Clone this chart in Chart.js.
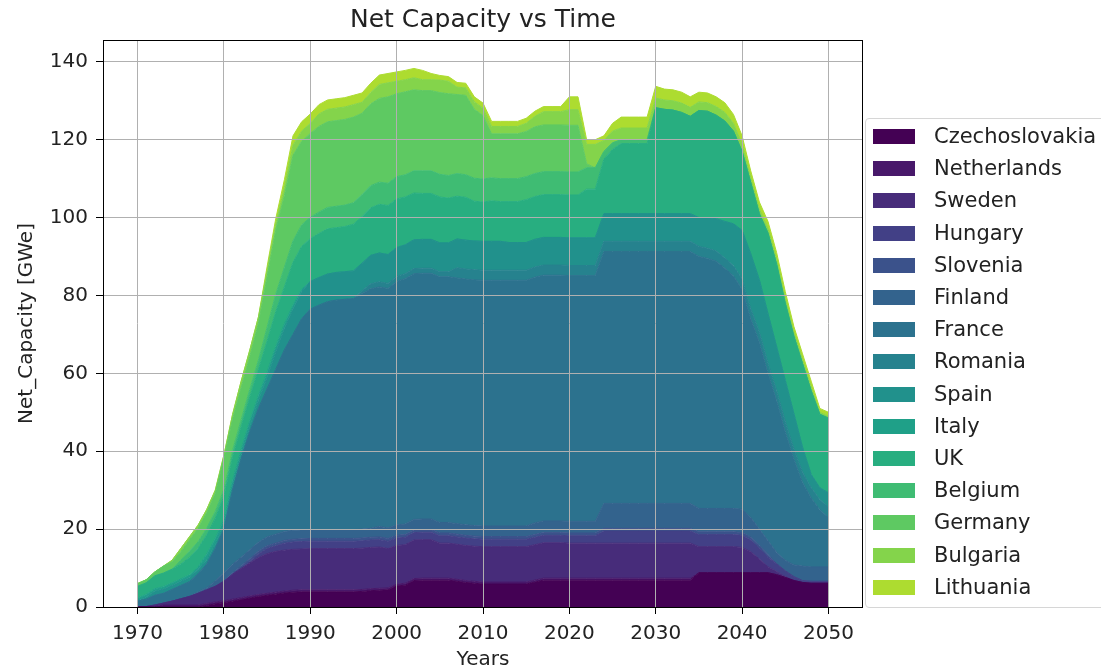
<!DOCTYPE html>
<html>
<head>
<meta charset="utf-8">
<script src="https://cdn.jsdelivr.net/npm/chart.js@4.4.0/dist/chart.umd.min.js"></script>
<style>
  body { margin: 0; background: #fff; }
  #wrap { position: relative; width: 1101px; height: 672px; overflow: hidden; font-family: 'DejaVu Sans', sans-serif; }
  #legend { position: absolute; left: 865px; top: 118px; width: 280px; height: 490px; box-sizing: border-box;
            border: 1px solid #d6d6d6; border-radius: 4px; background: rgba(255,255,255,0.8); }
  .sw { position: absolute; left: 7px; width: 42px; height: 15px; }
  .lb { position: absolute; left: 68px; font-size: 21px; color: #222; line-height: 24px; white-space: nowrap; }
</style>
</head>
<body>
<div id="wrap">
  <canvas id="capacity" width="1101" height="672"></canvas>
  <div id="legend"></div>
</div>
<script>
const years = [
  1970, 1971, 1972, 1973, 1974, 1975, 1976, 1977, 1978, 1979,
  1980, 1981, 1982, 1983, 1984, 1985, 1986, 1987, 1988, 1989,
  1990, 1991, 1992, 1993, 1994, 1995, 1996, 1997, 1998, 1999,
  2000, 2001, 2002, 2003, 2004, 2005, 2006, 2007, 2008, 2009,
  2010, 2011, 2012, 2013, 2014, 2015, 2016, 2017, 2018, 2019,
  2020, 2021, 2022, 2023, 2024, 2025, 2026, 2027, 2028, 2029,
  2030, 2031, 2032, 2033, 2034, 2035, 2036, 2037, 2038, 2039,
  2040, 2041, 2042, 2043, 2044, 2045, 2046, 2047, 2048, 2049, 2050
];

const countries = ['Czechoslovakia', 'Netherlands', 'Sweden', 'Hungary', 'Slovenia', 'Finland', 'France',
  'Romania', 'Spain', 'Italy', 'UK', 'Belgium', 'Germany', 'Bulgaria', 'Lithuania'];

const colors = ['#440154', '#48186a', '#472c7a', '#424086', '#3b528b', '#33638d', '#2c728e',
  '#26828e', '#21918c', '#1fa088', '#28ae80', '#3fbc73', '#5ec962', '#84d44b', '#addc30'];

// net capacity per country [GWe], 1970..2050
const czechoslovakia = [
  0, 0, 0, 0, 0, 0, 0, 0, 0.4, 0.8,
  1.1, 1.5, 1.9, 2.3, 2.7, 3.0, 3.3, 3.6, 3.8, 3.9,
  3.9, 3.9, 3.9, 3.9, 3.9, 3.9, 4.0, 4.2, 4.3, 4.4,
  5.4, 5.6, 6.8, 6.9, 6.9, 6.9, 6.9, 6.6, 6.3, 6.1,
  5.9, 5.9, 5.9, 5.9, 5.9, 5.9, 6.4, 6.9, 6.9, 6.9,
  6.9, 6.9, 6.9, 6.9, 6.9, 6.9, 6.9, 6.9, 6.9, 6.9,
  6.9, 6.9, 6.9, 6.9, 6.9, 8.8, 8.8, 8.8, 8.8, 8.8,
  8.8, 8.8, 8.8, 8.8, 8.3, 7.6, 6.8, 6.3, 6.1, 6.1, 6.1
];
const netherlands = [
  0.1, 0.1, 0.1, 0.5, 0.5, 0.5, 0.5, 0.5, 0.5, 0.5,
  0.5, 0.5, 0.5, 0.5, 0.5, 0.5, 0.5, 0.5, 0.5, 0.5,
  0.5, 0.5, 0.5, 0.5, 0.5, 0.5, 0.5, 0.5, 0.5, 0.5,
  0.5, 0.5, 0.5, 0.5, 0.5, 0.5, 0.5, 0.5, 0.5, 0.5,
  0.5, 0.5, 0.5, 0.5, 0.5, 0.5, 0.5, 0.5, 0.5, 0.5,
  0.5, 0.5, 0.5, 0.5, 0.5, 0.5, 0.5, 0.5, 0.5, 0.5,
  0.5, 0.5, 0.5, 0.5, 0.5, 0, 0, 0, 0, 0,
  0, 0, 0, 0, 0, 0, 0, 0, 0, 0, 0
];
const sweden = [
  0, 0, 0.4, 0.5, 1.0, 1.6, 2.2, 3.0, 3.5, 4.0,
  5.0, 6.4, 7.5, 8.5, 9.5, 10.2, 10.5, 10.5, 10.5, 10.5,
  10.6, 10.6, 10.6, 10.6, 10.6, 10.6, 10.6, 10.6, 10.6, 10.1,
  9.9, 9.9, 9.9, 9.9, 9.9, 9.0, 9.0, 9.0, 9.0, 9.0,
  9.1, 9.1, 9.1, 9.1, 9.1, 9.1, 9.1, 9.1, 9.1, 9.1,
  9.0, 9.0, 9.0, 9.0, 9.0, 9.0, 9.0, 9.0, 9.0, 9.0,
  9.0, 9.0, 9.0, 9.0, 9.0, 6.7, 6.7, 6.7, 6.7, 6.7,
  6.5, 5.4, 3.5, 1.5, 0.8, 0.2, 0, 0, 0, 0, 0
];
const hungary = [
  0, 0, 0, 0, 0, 0, 0, 0, 0, 0,
  0, 0, 0, 0.4, 0.9, 1.3, 1.4, 1.8, 1.9, 1.9,
  1.9, 1.9, 1.9, 1.9, 1.9, 1.9, 1.9, 1.9, 1.9, 1.9,
  1.9, 1.9, 1.9, 1.9, 1.9, 1.9, 1.9, 1.9, 1.9, 1.9,
  1.9, 1.9, 1.9, 1.9, 1.9, 1.9, 1.9, 1.9, 1.9, 1.9,
  1.9, 1.9, 1.9, 1.9, 3.1, 3.1, 3.1, 3.1, 3.1, 3.1,
  3.1, 3.1, 3.1, 3.1, 3.1, 3.1, 3.1, 3.1, 3.1, 3.1,
  3.1, 3.0, 2.8, 2.5, 2.0, 1.5, 1.0, 0.5, 0.5, 0.5, 0.5
];
const slovenia = [
  0, 0, 0, 0, 0, 0, 0, 0, 0, 0,
  0, 0.3, 0.6, 0.7, 0.7, 0.7, 0.7, 0.7, 0.7, 0.7,
  0.7, 0.7, 0.7, 0.7, 0.7, 0.7, 0.7, 0.7, 0.7, 0.7,
  0.7, 0.7, 0.7, 0.7, 0.7, 0.7, 0.7, 0.7, 0.7, 0.7,
  0.7, 0.7, 0.7, 0.7, 0.7, 0.7, 0.7, 0.7, 0.7, 0.7,
  0.7, 0.7, 0.7, 0.7, 0.7, 0.7, 0.7, 0.7, 0.7, 0.7,
  0.7, 0.7, 0.7, 0.7, 0.7, 0.7, 0.7, 0.7, 0.7, 0.7,
  0.7, 0.7, 0.7, 0.7, 0, 0, 0, 0, 0, 0, 0
];
const finland = [
  0, 0, 0, 0, 0, 0, 0, 0.4, 0.5, 1.4,
  2.2, 2.3, 2.3, 2.3, 2.3, 2.3, 2.3, 2.3, 2.3, 2.3,
  2.3, 2.3, 2.3, 2.3, 2.3, 2.3, 2.3, 2.3, 2.7, 2.7,
  2.7, 2.7, 2.7, 2.7, 2.7, 2.7, 2.7, 2.7, 2.7, 2.7,
  2.7, 2.7, 2.7, 2.7, 2.7, 2.7, 3.0, 3.0, 3.0, 3.0,
  3.0, 3.0, 3.0, 3.0, 6.4, 6.4, 6.4, 6.4, 6.4, 6.4,
  6.4, 6.4, 6.4, 6.4, 6.4, 6.0, 6.0, 6.0, 6.0, 6.0,
  6.0, 5.1, 4.2, 3.5, 2.9, 2.7, 3.0, 3.7, 3.7, 3.7, 3.7
];
const france = [
  1.4, 1.9, 2.5, 2.5, 3.0, 3.4, 3.8, 4.6, 6.1, 8.3,
  11.2, 19.0, 25.2, 30.3, 34.4, 38.0, 42.3, 46.6, 50.3, 54.2,
  56.6, 57.6, 58.5, 58.9, 59.1, 59.3, 60.5, 61.5, 61.5, 61.5,
  62.5, 63.0, 63.1, 63.1, 63.1, 63.1, 63.1, 63.1, 63.1, 63.1,
  63.1, 63.1, 63.1, 63.1, 63.1, 63.1, 63.1, 63.1, 63.1, 63.1,
  63.1, 63.1, 63.1, 63.1, 64.7, 64.7, 64.7, 64.7, 64.7, 64.7,
  64.7, 64.7, 64.7, 64.7, 64.7, 64.7, 64.2, 63.5, 61.7, 59.7,
  56.5, 51.0, 48.0, 43.0, 39.0, 33.0, 27.2, 21.5, 17.7, 14.7, 12.7
];
const romania = [
  0, 0, 0, 0, 0, 0, 0, 0, 0, 0,
  0, 0, 0, 0, 0, 0, 0, 0, 0, 0,
  0, 0, 0, 0, 0, 0, 0.7, 1.3, 1.3, 1.3,
  1.3, 1.3, 1.3, 1.3, 1.3, 1.3, 1.3, 2.6, 2.6, 2.6,
  2.6, 2.6, 2.6, 2.6, 2.6, 2.6, 2.6, 2.6, 2.6, 2.6,
  2.6, 2.6, 2.6, 2.6, 2.6, 2.6, 2.6, 2.6, 2.6, 2.6,
  2.6, 2.6, 2.6, 2.6, 2.6, 2.6, 2.6, 2.6, 2.6, 2.6,
  2.6, 2.6, 2.6, 2.6, 2.6, 2.6, 2.6, 2.6, 2.6, 2.6, 2.6
];
const spain = [
  0.2, 0.6, 1.1, 1.1, 1.1, 1.1, 1.1, 1.1, 1.1, 1.1,
  1.1, 1.1, 1.1, 1.5, 2.0, 3.0, 4.5, 5.5, 6.5, 7.0,
  7.1, 7.1, 7.1, 7.1, 7.1, 7.1, 7.1, 7.3, 7.4, 7.4,
  7.4, 7.4, 7.4, 7.4, 7.4, 7.4, 7.4, 7.4, 7.4, 7.4,
  7.4, 7.4, 7.4, 7.1, 7.1, 7.1, 7.1, 7.1, 7.1, 7.1,
  7.1, 7.1, 7.1, 7.1, 7.1, 7.1, 7.1, 7.1, 7.1, 7.1,
  7.1, 7.1, 7.1, 7.1, 7.1, 7.4, 7.9, 8.3, 9.4, 10.8,
  12.5, 14.1, 13.4, 12.7, 11.2, 10.6, 9.0, 6.4, 3.4, 3.0, 3.7
];
const italy = [
  0.6, 0.6, 0.6, 0.6, 0.6, 0.6, 0.6, 0.6, 1.4, 1.4,
  1.4, 1.4, 1.3, 1.3, 1.3, 1.3, 1.3, 1.2, 1.0, 0.6,
  0, 0, 0, 0, 0, 0, 0, 0, 0, 0,
  0, 0, 0, 0, 0, 0, 0, 0, 0, 0,
  0, 0, 0, 0, 0, 0, 0, 0, 0, 0,
  0, 0, 0, 0, 0, 0, 0, 0, 0, 0,
  0, 0, 0, 0, 0, 0, 0, 0, 0, 0,
  0, 0, 0, 0, 0, 0, 0, 0, 0, 0, 0
];
const uk = [
  3.0, 3.0, 3.3, 3.5, 3.5, 3.8, 4.5, 4.8, 5.0, 5.3,
  6.0, 6.0, 6.0, 6.2, 6.8, 8.0, 9.0, 9.5, 11.0, 11.0,
  11.0, 11.3, 11.6, 11.5, 11.6, 12.0, 12.0, 12.2, 12.5, 12.6,
  12.5, 12.3, 12.0, 11.8, 11.8, 11.8, 11.5, 11.0, 11.0, 10.2,
  10.1, 10.4, 10.2, 10.5, 10.5, 11.0, 11.0, 11.0, 11.0, 11.0,
  11.0, 11.0, 12.5, 12.5, 14.0, 16.5, 18.0, 18.0, 18.0, 18.0,
  27.2, 26.8, 26.6, 26.0, 25.0, 27.5, 27.3, 26.6, 25.8, 23.8,
  20.3, 18.3, 17.0, 20.7, 21.2, 19.8, 19.9, 21.5, 21.5, 18.9, 19.2
];
const belgium = [
  0, 0, 0, 0, 0, 1.0, 1.6, 1.7, 1.7, 1.7,
  1.7, 1.7, 1.7, 1.9, 2.3, 3.5, 4.5, 5.0, 5.5, 5.5,
  5.5, 5.5, 5.5, 5.5, 5.5, 5.5, 5.6, 5.7, 5.7, 5.7,
  5.7, 5.7, 5.7, 5.8, 5.8, 5.8, 5.8, 5.8, 5.8, 5.9,
  5.9, 5.9, 5.9, 5.9, 5.9, 5.9, 5.9, 5.9, 5.9, 5.9,
  5.9, 5.9, 5.5, 5.5, 2.0, 1.7, 1.0, 1.0, 1.0, 1.0,
  0, 0, 0, 0, 0, 0, 0, 0, 0, 0,
  0, 0, 0, 0, 0, 0, 0, 0, 0, 0, 0
];
const germany = [
  0.7, 0.8, 1.0, 1.8, 1.9, 2.2, 2.9, 3.5, 4.0, 4.7,
  8.0, 8.0, 8.3, 8.5, 9.5, 13.0, 16.5, 18.5, 22.0, 21.5,
  21.5, 22.0, 22.0, 22.0, 22.0, 22.0, 20.9, 21.0, 21.5, 22.2,
  21.3, 21.3, 20.8, 20.6, 20.6, 21.0, 21.0, 20.3, 20.4, 17.7,
  16.3, 11.3, 11.5, 11.5, 11.5, 11.6, 12.0, 12.0, 12.0, 12.0,
  12.0, 12.0, 1.0, 0, 0, 0, 0, 0, 0, 0,
  0, 0, 0, 0, 0, 0, 0, 0, 0, 0,
  0, 0, 0, 0, 0, 0, 0, 0, 0, 0, 0
];
const bulgaria = [
  0, 0, 0, 0, 0.4, 0.8, 0.8, 0.8, 0.8, 0.8,
  0.8, 1.2, 1.6, 1.6, 1.6, 1.6, 1.6, 2.0, 2.6, 2.6,
  2.6, 3.2, 3.2, 3.2, 3.2, 3.2, 2.8, 2.9, 3.6, 3.6,
  3.2, 3.1, 3.1, 2.8, 2.8, 3.2, 3.2, 1.9, 1.9, 1.9,
  1.9, 1.9, 1.9, 1.9, 1.9, 2.1, 2.7, 3.4, 3.4, 3.4,
  4.0, 4.0, 5.0, 6.0, 2.8, 3.0, 3.0, 3.0, 3.0, 3.0,
  2.5, 2.4, 2.4, 2.4, 2.3, 2.2, 2.2, 2.2, 2.2, 2.0,
  1.8, 1.2, 1.2, 1.2, 1.2, 1.2, 1.0, 1.0, 1.0, 0.5, 0.5
];
const lithuania = [
  0, 0, 0, 0, 0, 0, 0, 0, 0, 0,
  0, 0, 0, 0, 0, 1.0, 1.3, 2.0, 2.4, 2.4,
  2.4, 2.4, 2.4, 2.4, 2.4, 2.4, 2.4, 2.4, 2.4, 2.4,
  2.4, 2.4, 2.4, 2.4, 1.6, 1.2, 1.2, 1.2, 1.2, 1.3,
  1.3, 1.3, 1.3, 1.3, 1.3, 1.3, 1.3, 1.3, 1.3, 1.3,
  3.3, 3.3, 1.2, 1.2, 1.2, 2.0, 2.8, 2.8, 2.8, 2.8,
  3.0, 2.8, 2.8, 2.8, 2.7, 2.5, 2.5, 2.5, 2.5, 2.3,
  2.2, 1.8, 1.8, 1.8, 1.8, 1.8, 1.5, 1.5, 1.5, 1.0, 1.0
];

const series = [czechoslovakia, netherlands, sweden, hungary, slovenia, finland, france,
  romania, spain, italy, uk, belgium, germany, bulgaria, lithuania];

const font = { family: "'DejaVu Sans', sans-serif", size: 20 };

// matplotlib draws a full box round the axes
const frame = {
  id: 'frame',
  afterDraw(chart) {
    const { ctx, chartArea: a } = chart;
    ctx.save();
    ctx.strokeStyle = '#000';
    ctx.lineWidth = 1;
    ctx.strokeRect(a.left + 0.5, a.top + 0.5, a.right - a.left - 1, a.bottom - a.top);
    ctx.restore();
  }
};

new Chart(document.getElementById('capacity'), {
  type: 'line',
  data: {
    labels: years,
    datasets: countries.map((name, i) => ({
      label: name,
      data: series[i],
      fill: i === 0 ? 'origin' : '-1',
      backgroundColor: colors[i],
      borderColor: colors[i],
      borderWidth: 1,
      pointRadius: 0,
      tension: 0
    }))
  },
  options: {
    responsive: false,
    devicePixelRatio: 1,
    animation: false,
    events: [],
    layout: { padding: { left: 0, right: 238, top: 0, bottom: 0 } },
    plugins: {
      legend: { display: false },
      tooltip: { enabled: false },
      title: {
        display: true,
        text: 'Net Capacity vs Time',
        fullSize: false,
        color: '#222',
        font: { family: font.family, size: 25, weight: 'normal' },
        padding: { top: 5, bottom: 5 }
      }
    },
    scales: {
      x: {
        type: 'linear',
        min: 1966,
        max: 2054,
        afterFit(s) { s.height = 65; },
        ticks: { stepSize: 10, includeBounds: false, callback: v => String(v), color: '#222', font: font, padding: 8, maxRotation: 0 },
        grid: { color: '#b0b0b0', lineWidth: 1, z: 1, tickColor: '#000', tickLength: 7 },
        border: { display: false },
        title: { display: true, text: 'Years', color: '#222', font: font, padding: { top: 0, bottom: 0 } }
      },
      y: {
        stacked: true,
        min: 0,
        max: 145.6,
        afterFit(s) { s.width = 103; },
        ticks: { stepSize: 20, includeBounds: false, color: '#222', font: font, padding: 8 },
        grid: { color: '#b0b0b0', lineWidth: 1, z: 1, tickColor: '#000', tickLength: 7 },
        border: { display: false },
        title: { display: true, text: 'Net_Capacity [GWe]', color: '#222', font: font, padding: { top: 15, bottom: 0 } }
      }
    }
  },
  plugins: [frame]
});

const legend = document.getElementById('legend');
countries.forEach((name, i) => {
  const top = 10 + i * 32.2;
  legend.insertAdjacentHTML('beforeend',
    '<div class="sw" style="top:' + top + 'px;background:' + colors[i] + '"></div>' +
    '<div class="lb" style="top:' + (top - 5) + 'px">' + name + '</div>');
});
</script>
</body>
</html>
